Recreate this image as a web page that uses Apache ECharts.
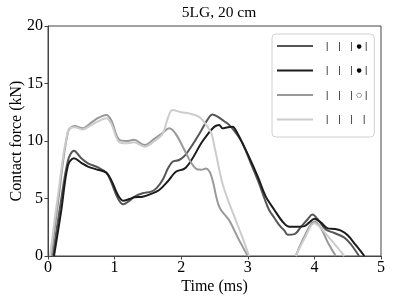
<!DOCTYPE html>
<html><head><meta charset="utf-8">
<script src="https://cdn.jsdelivr.net/npm/echarts@6/dist/echarts.min.js"></script>
<style>html,body{margin:0;padding:0;background:#fff}#c{width:395px;height:304px}</style>
</head><body><div id="c"></div>
<script>
const seriesNames = ['s1', 's2', 's3', 's4'];
const legendLabels = ['{b||}{b||}{c||}{d|●}{c||}', '{b||}{b||}{c||}{d|●}{c||}', '{b||}{b||}{c||}{o|○}{c||}', '{b||}{b||}{b||}{c||}'];
const seriesColors = ['#555555', '#1c1c1c', '#999999', '#cccccc'];

const t1 = [0.07,0.18,0.3,0.39,0.5,0.6,0.75,0.875,0.95,1.05,1.13,1.22,1.3,1.42,1.55,1.63,1.72,1.8,1.87,1.97,2.05,2.15,2.3,2.4,2.47,2.55,2.65,2.72,2.82,2.92,3.05,3.17,3.25,3.32,3.4,3.47,3.55,3.6,3.7,3.8,3.9,3.97,4.05,4.17,4.3,4.45,4.55,4.67];
const f1 = [0,4.2,8.3,9.15,8.5,8.06,7.7,7.25,6.4,5.0,4.5,4.8,5.16,5.45,5.6,5.9,6.6,7.6,8.2,8.35,8.7,9.5,10.9,11.9,12.3,12.1,11.7,11.4,10.7,9.8,8.0,6.3,5.0,4.0,3.3,2.7,2.2,1.85,1.9,2.55,3.2,3.6,3.2,2.3,2.0,1.6,1.0,0];

const t2 = [0.09,0.2,0.3,0.39,0.5,0.6,0.75,0.875,0.95,1.05,1.13,1.22,1.3,1.42,1.55,1.67,1.8,1.92,2.05,2.15,2.3,2.4,2.5,2.57,2.62,2.7,2.77,2.85,2.92,3.02,3.15,3.27,3.4,3.52,3.62,3.75,3.85,3.92,4.0,4.1,4.2,4.3,4.4,4.5,4.62,4.75];
const f2 = [0,4.0,7.9,8.5,8.1,7.77,7.5,7.25,6.6,5.3,4.81,4.95,5.1,5.16,5.4,5.74,6.5,7.33,7.6,8.3,9.8,10.6,11.25,11.4,11.1,11.2,11.25,10.6,9.8,8.6,6.9,5.16,4.0,3.0,2.55,2.55,2.6,2.9,3.25,2.9,2.4,2.35,2.2,1.8,0.96,0];

const t3 = [0.05,0.15,0.3,0.4,0.52,0.65,0.75,0.875,0.95,1.07,1.18,1.29,1.45,1.6,1.72,1.82,1.92,2.05,2.15,2.22,2.3,2.37,2.45,2.57,2.72,2.85,3.0,3.3,3.72,3.85,4.0,4.1,4.2,4.32];
const f3 = [0,4.6,10.8,11.3,11.1,11.6,12.0,12.26,11.8,10.1,10.0,10.1,9.65,10.2,10.7,11.1,10.6,9.2,8.1,7.6,7.5,7.6,7.0,4.3,3.1,1.6,0,null,0,1.7,3.0,2.4,1.2,0];

const t4 = [0.03,0.15,0.3,0.4,0.52,0.65,0.75,0.875,0.95,1.07,1.18,1.29,1.45,1.6,1.72,1.8,1.87,2.0,2.12,2.27,2.35,2.45,2.5,2.62,2.72,2.82,2.92,3.02,3.3,3.72,3.85,4.0,4.1,4.25,4.45];
const f4 = [0,5.3,10.9,11.2,11.0,11.4,11.7,11.97,11.5,9.9,9.8,9.9,9.5,10.0,10.6,12.0,12.7,12.5,12.4,12.1,11.6,10.7,9.5,6.3,4.6,3.1,1.6,0,null,0,1.5,2.85,2.4,1.4,0];

const xTicks = [0,1,2,3,4,5];
const yTicks = [0,5,10,15,20];

const times = [t1,t2,t3,t4];
const forces = [f1,f2,f3,f4];
const serif = '"Liberation Serif","DejaVu Serif",serif';

const chart = echarts.init(document.getElementById('c'), null, {renderer:'canvas'});
chart.setOption({
  animation: false,
  title: {text: '5LG, 20 cm', left: 214, top: 0, textAlign: 'center',
    textStyle: {fontFamily: serif, fontSize: 15.5, fontWeight: 'normal', color: '#000'}},
  grid: {left: 48, right: 14, top: 26, bottom: 48, containLabel: false, outerBoundsMode: 'none',
    show: true, borderColor: '#444', borderWidth: 1},
  legend: {
    orient: 'vertical', left: 272, top: 34,
    padding: [6.5, 7, 12, 5], itemGap: 13.5, itemWidth: 36, itemHeight: 14,
    borderColor: '#d0d0d0', borderWidth: 1, borderRadius: 4,
    formatter: name => legendLabels[seriesNames.indexOf(name)],
    textStyle: {fontFamily: serif, fontSize: 10, color: '#000', padding: [0,0,0,8],
      rich: {
        b: {fontFamily: serif, fontSize: 10.5, fontWeight: 'bold', width: 12.3, align: 'left', color: '#000'},
        c: {fontFamily: serif, fontSize: 10.5, fontWeight: 'bold', width: 3, align: 'left', color: '#000'},
        d: {fontFamily: '"DejaVu Sans"', fontSize: 6, width: 11, align: 'center', color: '#000'},
        o: {fontFamily: '"DejaVu Sans"', fontSize: 6.5, width: 11, align: 'center', color: '#000'}
      }},
    data: seriesNames.map(n => ({name: n, icon: 'path://M0,0 L36,0 L36,2 L0,2 Z'}))
  },
  xAxis: {
    type: 'value', min: 0, max: 5, interval: 1,
    name: 'Time (ms)', nameLocation: 'middle', nameGap: 23, nameMoveOverlap: false,
    nameTextStyle: {fontFamily: serif, fontSize: 16, color: '#000'},
    axisLine: {show: true, lineStyle: {color: '#444'}},
    axisTick: {show: true, length: 3.5, lineStyle: {color: '#444'}},
    axisLabel: {fontFamily: serif, fontSize: 16, color: '#000', margin: 4},
    splitLine: {show: false}
  },
  yAxis: {
    type: 'value', min: 0, max: 20, interval: 5,
    name: 'Contact force (kN)', nameLocation: 'middle', nameGap: 23, nameMoveOverlap: false,
    nameTextStyle: {fontFamily: serif, fontSize: 16, color: '#000'},
    axisLine: {show: true, lineStyle: {color: '#444'}},
    axisTick: {show: true, length: 3.5, lineStyle: {color: '#444'}},
    axisLabel: {fontFamily: serif, fontSize: 16, color: '#000', margin: 5},
    splitLine: {show: false}
  },
  series: seriesNames.map((n, i) => ({
    name: n, type: 'line', smooth: 0.35, symbol: 'none', showSymbol: false,
    clip: true, connectNulls: false,
    color: seriesColors[i],
    lineStyle: {color: seriesColors[i], width: 2},
    data: times[i].map((t, k) => [t, forces[i][k] === null ? '-' : forces[i][k]])
  }))
});
</script></body></html>
